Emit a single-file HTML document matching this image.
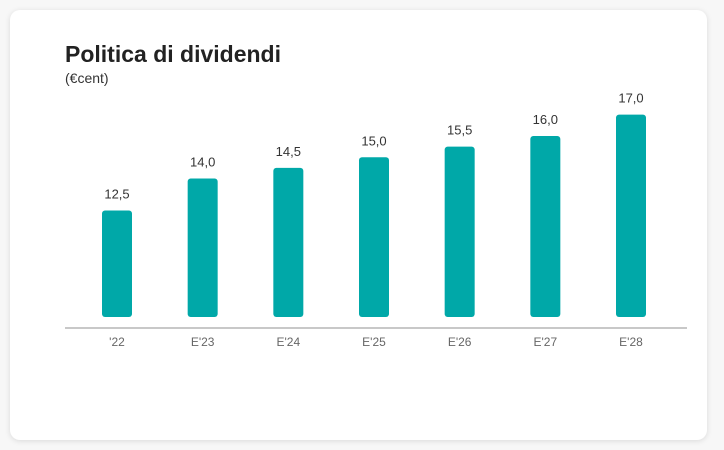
<!DOCTYPE html>
<html><head><meta charset="utf-8"><style>
body{margin:0;width:724px;height:450px;background:#f7f7f7;font-family:"Liberation Sans",sans-serif;overflow:hidden}
.card{position:absolute;left:10px;top:10px;width:697px;height:430px;background:#fff;border-radius:10px;box-shadow:0 1px 6px rgba(0,0,0,.12)}
.t{position:absolute;left:65px;top:41px;font-size:23px;font-weight:bold;color:#222}
.s{position:absolute;left:65px;top:70px;font-size:14px;color:#333}
svg{position:absolute;left:0;top:0}
</style></head><body>
<div class="card"></div>
<div class="t">Politica di dividendi</div>
<div class="s">(€cent)</div>
<svg width="724" height="450" id="c"></svg>
<script>
const categories=["'22","E'23","E'24","E'25","E'26","E'27","E'28"];
const values=[12.5,14.0,14.5,15.0,15.5,16.0,17.0];
const valueLabels=["12,5","14,0","14,5","15,0","15,5","16,0","17,0"];
const ns="http://www.w3.org/2000/svg",svg=document.getElementById('c');
const x0=117,x1=631,base=317,slope=21.3,vmin=7.5;
const xs=i=>x0+(x1-x0)*i/(categories.length-1);
const ys=v=>base-(v-vmin)*slope;
function mk(t,a){const e=document.createElementNS(ns,t);for(const k in a)e.setAttribute(k,a[k]);svg.appendChild(e);return e;}
const ax=mk('line',{x1:65,x2:687,y1:328,y2:328,stroke:'#c8c8c8','stroke-width':2});


values.forEach((v,i)=>{
const cx=xs(i),top=ys(v);
const r=mk('rect',{x:cx-15,y:top,width:30,height:base-top,rx:3,fill:'#00a8a8'});


const t=mk('text',{x:cx,y:top-12,'text-anchor':'middle','font-size':13,fill:'#333'});
t.textContent=valueLabels[i];


const l=mk('text',{x:cx,y:346,'text-anchor':'middle','font-size':12,fill:'#666'});
l.textContent=categories[i];


});
</script>
</body></html>
